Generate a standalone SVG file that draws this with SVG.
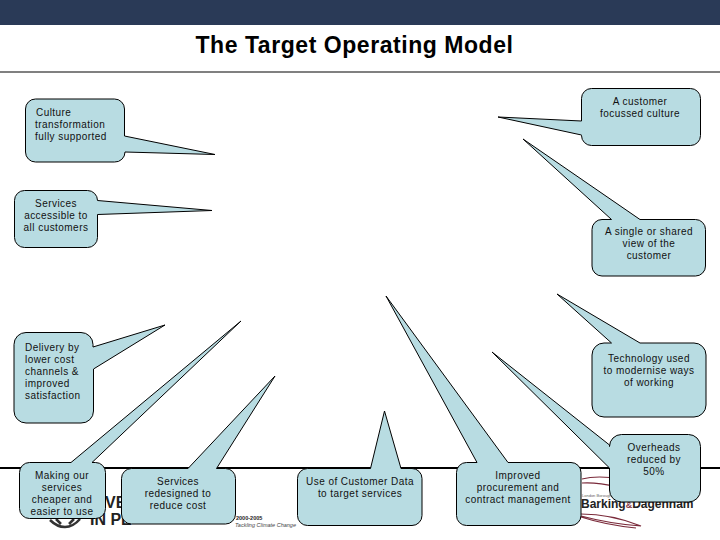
<svg xmlns="http://www.w3.org/2000/svg" width="720" height="540" viewBox="0 0 720 540">
<style>
.c{fill:#b8dce2;stroke:#000;stroke-width:1;stroke-linejoin:miter}
text{font-family:"Liberation Sans",Arial,sans-serif}
.t{font-size:10px;letter-spacing:.45px;fill:#111;text-anchor:middle}
.l{font-size:10px;letter-spacing:.45px;fill:#111}
</style>
<rect width="720" height="540" fill="#fff"/>
<rect width="720" height="25" fill="#2a3a57"/>
<rect y="71" width="720" height="2" fill="#808080"/>
<text x="354.500" y="52.500" font-size="23" font-weight="bold" text-anchor="middle" fill="#000" letter-spacing=".55">The Target Operating Model</text>
<rect y="467" width="720" height="2" fill="#000"/>
<g id="logos">
<text x="105" y="508" font-size="16" font-weight="bold" fill="#222">VE</text>
<text x="90" y="525" font-size="16" font-weight="bold" fill="#222">IN PE</text>
<path d="M50 520q7 7 15 7q8 0 15-8M56 519l5 5M74 519l-5 5" fill="none" stroke="#333" stroke-width="2.500"/>
<text x="236" y="520" font-size="5.500" font-weight="bold" fill="#222">2000-2005</text>
<text x="235" y="527" font-size="5.500" font-style="italic" fill="#444">Tackling Climate Change</text>
<text x="582" y="497" font-size="4" fill="#666">London Borough of</text>
<text x="581" y="508" font-size="12" font-weight="bold" fill="#222">Barking<tspan fill="#8a3a4a" font-size="9">&amp;</tspan>Dagenham</text>
<path d="M582 479q15-4 40 0M582 483q15-1 35 4M581 514q30 0 60 12q-30-2-60-10M581 517q25 8 55 11" fill="none" stroke="#7a2a3a" stroke-width="1.200"/>
</g>
<g id="connectors"></g>
<g id="node-culture"><path class="c" d="M35.500 99H114.500A10 10 0 0 1 124.500 109V136L215 154.500L125 152V152A10 10 0 0 1 114.500 162H35.500A10 10 0 0 1 25.500 152V109A10 10 0 0 1 35.500 99Z"/>
<text class="l" x="36" y="116">Culture</text><text class="l" x="35" y="128">transformation</text><text class="l" x="35" y="140">fully supported</text></g>
<g id="node-accessible"><path class="c" d="M24.500 190.500H87.500A10 10 0 0 1 97.500 200.500L212 210.500L97.500 214.500V237.500A10 10 0 0 1 87.500 247.500H24.500A10 10 0 0 1 14.500 237.500V200.500A10 10 0 0 1 24.500 190.500Z"/>
<text class="t" x="56" y="207">Services</text><text class="t" x="56" y="219">accessible to</text><text class="t" x="56" y="231">all customers</text></g>
<g id="node-customer"><path class="c" d="M591.500 88.500H690.500A10 10 0 0 1 700.500 98.500V135.500A10 10 0 0 1 690.500 145.500H591.500A10 10 0 0 1 581.500 135.500V135L498 117L581.500 121V98.500A10 10 0 0 1 591.500 88.500Z"/>
<text class="t" x="640" y="105">A customer</text><text class="t" x="640" y="117">focussed culture</text></g>
<g id="node-single"><path class="c" d="M602 219.500H611.500L523 139L640 219.500H695.500A10 10 0 0 1 705.500 229.500V266A10 10 0 0 1 695.500 276H602A10 10 0 0 1 592 266V229.500A10 10 0 0 1 602 219.500Z"/>
<text class="t" x="649" y="235">A single or shared</text><text class="t" x="649" y="247">view of the</text><text class="t" x="649" y="259">customer</text></g>
<g id="node-delivery"><path class="c" d="M26 332.500H81A12 12 0 0 1 93 344.500V347L165 325L93.500 369V411A12 12 0 0 1 81 423H26A12 12 0 0 1 14 411V344.500A12 12 0 0 1 26 332.500Z"/>
<text class="l" x="25" y="351">Delivery by</text><text class="l" x="25" y="363">lower cost</text><text class="l" x="25" y="375">channels &amp;</text><text class="l" x="25" y="387">improved</text><text class="l" x="25" y="399">satisfaction</text></g>
<g id="node-technology"><path class="c" d="M604 343H611.500L557 294L640 343H694A12 12 0 0 1 706 355V405A12 12 0 0 1 694 417H604A12 12 0 0 1 592 405V355A12 12 0 0 1 604 343Z"/>
<text class="t" x="649" y="362">Technology used</text><text class="t" x="649" y="374">to modernise ways</text><text class="t" x="649" y="386">of working</text></g>
<g id="node-making"><path class="c" d="M29.500 462.500H71L241 321L92 462.500H95.500A10 10 0 0 1 105.500 472.500V508.500A10 10 0 0 1 95.500 518.500H29.500A10 10 0 0 1 19.500 508.500V472.500A10 10 0 0 1 29.500 462.500Z"/>
<text class="t" x="62" y="479">Making our</text><text class="t" x="62" y="491">services</text><text class="t" x="62" y="503">cheaper and</text><text class="t" x="62" y="515">easier to use</text></g>
<g id="node-redesigned"><path class="c" d="M131.500 468.500H188L275 376L216.500 468.500H225.500A10 10 0 0 1 235.500 478.500V514A10 10 0 0 1 225.500 524H131.500A10 10 0 0 1 121.500 514V478.500A10 10 0 0 1 131.500 468.500Z"/>
<text class="t" x="178" y="485">Services</text><text class="t" x="178" y="497">redesigned to</text><text class="t" x="178" y="509">reduce cost</text></g>
<g id="node-data"><path class="c" d="M307.500 468.500H370.500L384.500 411L401 468.500H412A10 10 0 0 1 422 478.500V515.500A10 10 0 0 1 412 525.500H307.500A10 10 0 0 1 297.500 515.500V478.500A10 10 0 0 1 307.500 468.500Z"/>
<text class="t" x="360" y="485">Use of Customer Data</text><text class="t" x="360" y="497">to target services</text></g>
<g id="node-procurement"><path class="c" d="M466.500 462.500H477L386 296L508 462.500H571A10 10 0 0 1 581 472.500V515.500A10 10 0 0 1 571 525.500H466.500A10 10 0 0 1 456.500 515.500V472.500A10 10 0 0 1 466.500 462.500Z"/>
<text class="t" x="518" y="479">Improved</text><text class="t" x="518" y="491">procurement and</text><text class="t" x="518" y="503">contract management</text></g>
<g id="node-overheads"><path class="c" d="M621.500 434.500H688.500A12 12 0 0 1 700.500 446.500V490A12 12 0 0 1 688.500 502H621.500A12 12 0 0 1 609.500 490V468L492 352L609.500 445V446.500A12 12 0 0 1 621.500 434.500Z"/>
<text class="t" x="654" y="451">Overheads</text><text class="t" x="654" y="463">reduced by</text><text class="t" x="654" y="475">50%</text></g>
</svg>
